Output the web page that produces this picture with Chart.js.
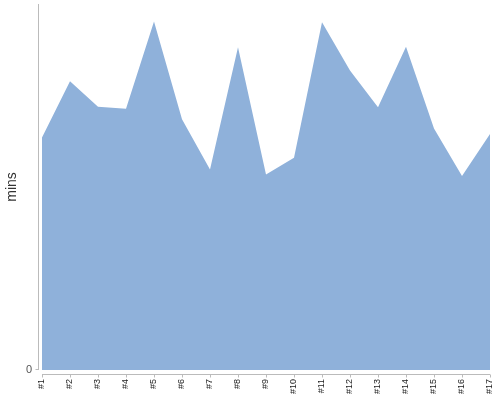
<!DOCTYPE html>
<html>
<head>
<meta charset="utf-8">
<script src="https://cdn.jsdelivr.net/npm/chart.js@4"></script>
<style>
  html, body { margin: 0; padding: 0; background: #fff; }
</style>
</head>
<body>
<canvas id="minsChart" width="500" height="400"></canvas>
<script>
  // categories and values (minutes)
  const labels = ['#1', '#2', '#3', '#4', '#5', '#6', '#7', '#8', '#9', '#10', '#11', '#12', '#13', '#14', '#15', '#16', '#17'];
  const mins = [63.5, 78.9, 71.9, 71.4, 95.2, 68.5, 54.8, 88.2, 53.4, 58.0, 95.0, 81.8, 71.8, 88.3, 66.0, 53.0, 64.5];
  const yMax = 100;
  const yTicks = ['0'];

  // axis lines sit a few pixels off the plot area, like the original
  const axisLines = {
    id: 'axisLines',
    afterDraw(chart) {
      const ctx = chart.ctx;
      const area = chart.chartArea;
      const x = chart.scales.x;
      ctx.save();
      ctx.strokeStyle = '#bbbbbb';
      ctx.lineWidth = 1;
      ctx.beginPath();
      // y axis
      ctx.moveTo(area.left - 3.5, area.top);
      ctx.lineTo(area.left - 3.5, area.bottom);
      ctx.moveTo(area.left - 6.5, area.bottom - 0.5);
      ctx.lineTo(area.left - 3.5, area.bottom - 0.5);
      // x axis
      ctx.moveTo(area.left, area.bottom + 4.5);
      ctx.lineTo(area.right, area.bottom + 4.5);
      for (let i = 0; i < labels.length; i++) {
        const px = Math.round(x.getPixelForValue(i)) + 0.5;
        ctx.moveTo(px, area.bottom + 4.5);
        ctx.lineTo(px, area.bottom + 7.5);
      }
      ctx.stroke();
      ctx.restore();
    }
  };

  const ctx = document.getElementById('minsChart').getContext('2d');
  const chart = new Chart(ctx, {
    type: 'line',
    data: {
      labels: labels,
      datasets: [{
        label: 'mins',
        data: mins,
        fill: 'origin',
        backgroundColor: 'rgb(143, 177, 218)',
        borderColor: 'rgb(143, 177, 218)',
        borderWidth: 0,
        pointRadius: 0,
        tension: 0
      }]
    },
    options: {
      responsive: false,
      animation: false,
      layout: { padding: { top: 4, right: 10, bottom: 0, left: 0 } },
      scales: {
        x: {
          grid: { display: false, drawTicks: false },
          border: { display: false },
          ticks: {
            autoSkip: false,
            minRotation: 90,
            maxRotation: 90,
            padding: 9,
            color: '#222',
            font: { family: 'Liberation Sans, Arial, sans-serif', size: 9 }
          },
          afterFit(scale) {
            scale.height = 30;
            scale.paddingLeft = 0;
            scale.paddingRight = 0;
          }
        },
        y: {
          min: 0,
          max: yMax,
          grid: { display: false, drawTicks: false },
          border: { display: false },
          ticks: {
            stepSize: yMax,
            padding: 10,
            color: '#555',
            font: { family: 'Liberation Sans, Arial, sans-serif', size: 11 },
            callback: function(v) { return v === 0 ? yTicks[0] : ''; }
          },
          title: {
            display: true,
            text: 'mins',
            color: '#333',
            font: { family: 'Liberation Sans, Arial, sans-serif', size: 14 }
          },
          afterFit(scale) {
            scale.width = 42;
            scale.paddingTop = 0;
            scale.paddingBottom = 0;
          }
        }
      },
      plugins: {
        legend: { display: false },
        tooltip: { enabled: false }
      }
    },
    plugins: [axisLines]
  });
</script>
</body>
</html>
